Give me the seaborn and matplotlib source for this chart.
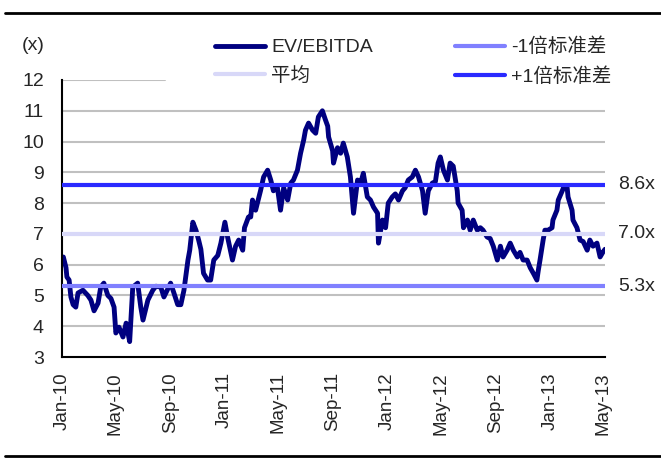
import numpy as np
import pandas as pd
import seaborn as sns
import matplotlib.pyplot as plt
import matplotlib.transforms as mtransforms
from matplotlib.lines import Line2D

# EV/EBITDA series
dates = [
    "2010-01-04", "2010-01-10", "2010-01-12", "2010-01-17", "2010-01-21", "2010-01-26",
    "2010-02-01", "2010-02-06", "2010-02-17", "2010-02-28", "2010-03-07", "2010-03-14",
    "2010-03-23", "2010-03-29", "2010-04-05", "2010-04-14", "2010-04-21", "2010-04-28",
    "2010-05-02", "2010-05-09", "2010-05-18", "2010-05-25", "2010-06-02", "2010-06-09",
    "2010-06-20", "2010-06-27", "2010-07-02", "2010-07-13", "2010-07-24", "2010-07-31",
    "2010-08-11", "2010-08-18", "2010-09-02", "2010-09-09", "2010-09-18", "2010-09-25",
    "2010-10-02", "2010-10-11", "2010-10-15", "2010-10-22", "2010-10-29", "2010-11-04",
    "2010-11-09", "2010-11-15", "2010-11-24", "2010-12-01", "2010-12-08", "2010-12-17",
    "2010-12-24", "2011-01-02", "2011-01-08", "2011-01-19", "2011-01-26", "2011-02-02",
    "2011-02-11", "2011-02-15", "2011-02-24", "2011-03-01", "2011-03-05", "2011-03-12",
    "2011-03-23", "2011-03-30", "2011-04-08", "2011-04-15", "2011-04-21", "2011-04-30",
    "2011-05-07", "2011-05-14", "2011-05-23", "2011-05-30", "2011-06-05", "2011-06-14",
    "2011-06-21", "2011-06-28", "2011-07-02", "2011-07-09", "2011-07-18", "2011-07-25",
    "2011-07-31", "2011-08-09", "2011-08-16", "2011-08-21", "2011-08-23", "2011-09-01",
    "2011-09-03", "2011-09-12", "2011-09-19", "2011-09-25", "2011-10-04", "2011-10-11",
    "2011-10-18", "2011-10-27", "2011-11-03", "2011-11-09", "2011-11-18", "2011-11-25",
    "2011-12-02", "2011-12-11", "2011-12-13", "2011-12-22", "2011-12-29", "2012-01-04",
    "2012-01-13", "2012-01-20", "2012-01-27", "2012-02-05", "2012-02-11", "2012-02-18",
    "2012-02-27", "2012-03-05", "2012-03-12", "2012-03-21", "2012-03-27", "2012-04-03",
    "2012-04-12", "2012-04-19", "2012-04-25", "2012-04-30", "2012-05-07", "2012-05-16",
    "2012-05-22", "2012-05-29", "2012-06-07", "2012-06-09", "2012-06-18", "2012-06-21",
    "2012-06-30", "2012-07-06", "2012-07-13", "2012-07-22", "2012-07-29", "2012-08-04",
    "2012-08-13", "2012-08-20", "2012-08-27", "2012-09-05", "2012-09-12", "2012-09-18",
    "2012-09-27", "2012-10-04", "2012-10-11", "2012-10-20", "2012-10-26", "2012-11-02",
    "2012-11-11", "2012-11-18", "2012-11-25", "2012-12-03", "2012-12-06", "2012-12-10",
    "2012-12-17", "2012-12-21", "2012-12-28", "2013-01-06", "2013-01-08", "2013-01-17",
    "2013-01-20", "2013-01-29", "2013-02-02", "2013-02-09", "2013-02-11", "2013-02-20",
    "2013-02-22", "2013-03-03", "2013-03-10", "2013-03-17", "2013-03-26", "2013-04-01",
    "2013-04-08", "2013-04-17", "2013-04-24", "2013-04-30", "2013-05-05",
]
ev_ebitda = [
    6.25, 5.9, 5.6, 5.5, 4.95, 4.7,
    4.62, 5.08, 5.17, 5.0, 4.85, 4.5,
    4.75, 5.27, 5.4, 5.0, 4.9, 4.62,
    3.78, 3.97, 3.65, 4.1, 3.5, 5.27,
    5.4, 4.62, 4.2, 4.85, 5.17, 5.3,
    5.27, 4.95, 5.4, 5.1, 4.7, 4.7,
    5.17, 6.15, 6.47, 7.38, 7.12, 6.8,
    6.5, 5.72, 5.5, 5.5, 6.15, 6.3,
    6.7, 7.38, 6.9, 6.15, 6.6, 6.8,
    6.47, 7.2, 7.55, 7.55, 8.1, 7.77,
    8.4, 8.85, 9.07, 8.75, 8.4, 8.5,
    7.77, 8.5, 8.1, 8.65, 8.75, 9.07,
    9.62, 10.05, 10.37, 10.6, 10.37, 10.27,
    10.8, 11.0, 10.7, 10.5, 10.15, 9.7,
    9.3, 9.8, 9.62, 9.95, 9.5, 8.85,
    7.67, 8.75, 8.65, 8.97, 8.2, 8.1,
    7.87, 7.67, 6.7, 7.45, 7.2, 8.0,
    8.2, 8.3, 8.1, 8.4, 8.5, 8.75,
    8.85, 9.07, 8.85, 8.4, 7.67, 8.4,
    8.65, 8.7, 9.3, 9.5, 9.07, 8.75,
    9.3, 9.2, 8.4, 8.0, 7.77, 7.2,
    7.45, 7.12, 7.45, 7.12, 7.2, 7.12,
    6.9, 6.85, 6.6, 6.15, 6.6, 6.25,
    6.47, 6.7, 6.47, 6.25, 6.4, 6.15,
    6.15, 5.9, 5.72, 5.5, 5.8, 6.15,
    6.8, 7.12, 7.12, 7.2, 7.45, 7.77,
    8.1, 8.4, 8.55, 8.5, 8.2, 7.77,
    7.45, 7.2, 6.8, 6.75, 6.47, 6.8,
    6.6, 6.7, 6.25, 6.4, 6.5,
]

mean_val = 7.0
minus_std = 5.3
plus_std = 8.6
stat_labels = ["8.6x", "7.0x", "5.3x"]

yticks = list(range(3, 13))
xtick_dates = pd.date_range("2010-01-01", "2013-05-01", freq="4MS")

df = pd.DataFrame({"date": pd.to_datetime(dates), "value": ev_ebitda})

FONTS = ["Liberation Sans", "Noto Sans CJK SC", "DejaVu Sans"]

sns.set_style("white")
plt.rcParams["font.family"] = FONTS

fig = plt.figure(figsize=(6.61, 4.62), dpi=100)
ax = fig.add_axes([62 / 661, 1 - 357 / 462, 543 / 661, 277 / 462])

# gridlines (the top one is partly hidden by the legend box in the original)
for t in yticks[1:]:
    ax.axhline(t, color="#c0c0c0", lw=1.5, zorder=0,
               xmax=0.19 if t == 12 else 1)

sns.lineplot(data=df, x="date", y="value", color="#000080", lw=3.5,
             ax=ax, label="EV/EBITDA", zorder=2)
ax.axhline(mean_val, color="#d8d8f8", lw=3, label="平均", zorder=3)
ax.axhline(minus_std, color="#8080ff", lw=3, label="-1倍标准差", zorder=3)
ax.axhline(plus_std, color="#2a2aff", lw=3, label="+1倍标准差", zorder=3)

ax.set_xlim(pd.Timestamp("2010-01-01"), pd.Timestamp("2013-05-05"))
ax.set_ylim(3, 12)
ax.set_yticks(yticks)
ax.set_xticks(xtick_dates)
ax.set_xticklabels([d.strftime("%b-%y") for d in xtick_dates], rotation=90,
                   fontsize=13.5)
ax.tick_params(axis="y", labelsize=14, length=7, width=1.5, direction="out",
               color="black", pad=6)
ax.tick_params(axis="x", length=7, width=1.5, direction="out", color="black", pad=4)
ax.set_xlabel("")
ax.set_ylabel("")

sns.despine(ax=ax)
for s in ["left", "bottom"]:
    ax.spines[s].set_color("black")
    ax.spines[s].set_linewidth(1.5)

trans = mtransforms.blended_transform_factory(ax.transAxes, ax.transData)
for v, lab in zip([plus_std, mean_val, minus_std], stat_labels):
    ax.text(1.024, v, lab, transform=trans, va="center", ha="left", fontsize=14)

fig.text(22 / 661, 1 - 46 / 462, "(x)", va="center", ha="left", fontsize=14)

ax.legend(ncol=2, frameon=False, loc="upper left",
          bbox_to_anchor=(205 / 661, 1 - 28 / 462), bbox_transform=fig.transFigure,
          borderpad=0, handlelength=2.6, handletextpad=0.3, columnspacing=4.2,
          labelspacing=0.55, fontsize=14)

# rules at top and bottom of the exhibit
fig.add_artist(Line2D([5 / 661, 1], [1 - 13 / 462] * 2, color="black", lw=2))
fig.add_artist(Line2D([5 / 661, 1], [1 - 456 / 462] * 2, color="black", lw=2))

fig.savefig("out.png", dpi=100)
